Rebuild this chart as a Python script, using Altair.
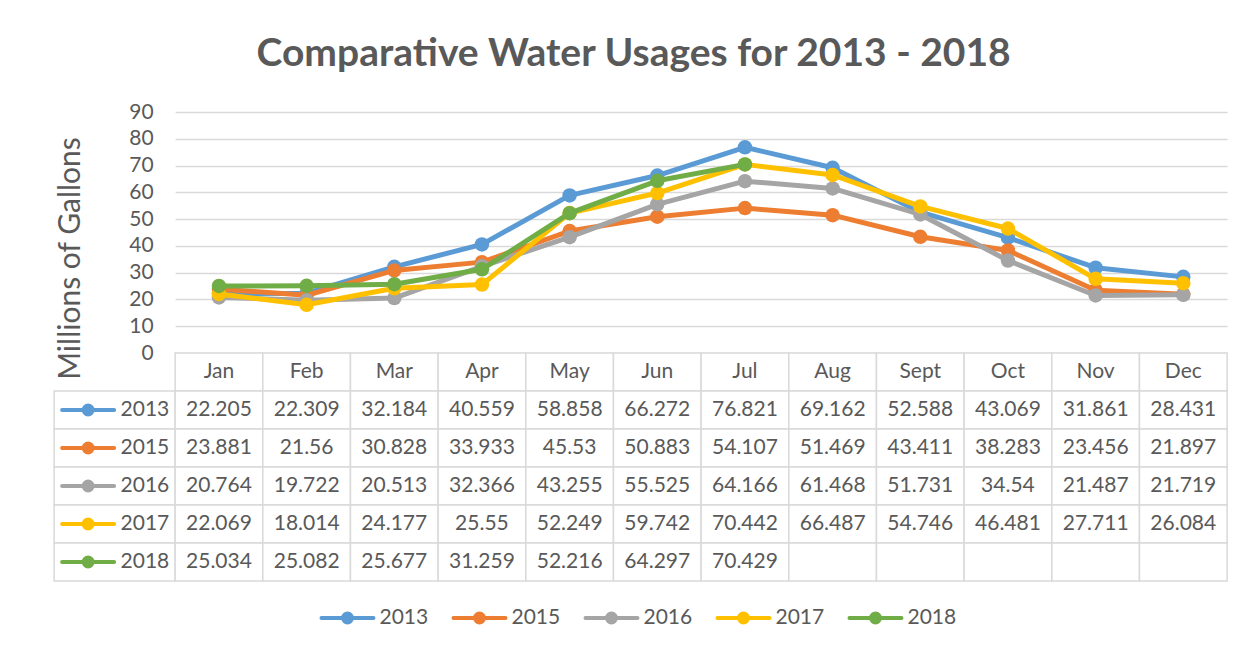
import altair as alt
import pandas as pd

# ---------------- data ----------------
months = ["Jan", "Feb", "Mar", "Apr", "May", "Jun", "Jul", "Aug", "Sept", "Oct", "Nov", "Dec"]
years = ["2013", "2015", "2016", "2017", "2018"]
colors = ["#5B9BD5", "#ED7D31", "#A5A5A5", "#FFC000", "#70AD47"]
v2013 = [22.205, 22.309, 32.184, 40.559, 58.858, 66.272, 76.821, 69.162, 52.588, 43.069, 31.861, 28.431]
v2015 = [23.881, 21.56, 30.828, 33.933, 45.53, 50.883, 54.107, 51.469, 43.411, 38.283, 23.456, 21.897]
v2016 = [20.764, 19.722, 20.513, 32.366, 43.255, 55.525, 64.166, 61.468, 51.731, 34.54, 21.487, 21.719]
v2017 = [22.069, 18.014, 24.177, 25.55, 52.249, 59.742, 70.442, 66.487, 54.746, 46.481, 27.711, 26.084]
v2018 = [25.034, 25.082, 25.677, 31.259, 52.216, 64.297, 70.429, None, None, None, None, None]
y_ticks = [0, 10, 20, 30, 40, 50, 60, 70, 80, 90]
title_text = "Comparative Water Usages for 2013 - 2018"
y_title = "Millions of Gallons"

series = [v2013, v2015, v2016, v2017, v2018]

# ---------------- style ----------------
FONT = "Lato"
TXT = "#595959"
GRID = "#d9d9d9"
PLOT_W, PLOT_H = 1052, 241
LAB_W = 121
ROW_H = 38
rows = ["hdr"] + years
FS = 21

# symbol (line + dot) paths, unit = sqrt(size)/2
SYM_SIZE = 2704
SYM_PATH = ("M-0.856,0H1.144"
            "M0.317,0A0.173,0.173 0 1 1 -0.029,0A0.173,0.173 0 1 1 0.317,0Z")
LEG_PATH = ("M-2.135,0H-0.135"
            "M-0.962,0A0.173,0.173 0 1 1 -1.308,0A0.173,0.173 0 1 1 -0.962,0Z")


def fmt(v):
    return "" if v is None else f"{v:g}"


records = []
for yr, vals in zip(years, series):
    for m, v in zip(months, vals):
        records.append({"year": yr, "month": m, "value": v, "label": fmt(v)})
df = pd.DataFrame(records)

cscale = alt.Scale(domain=years, range=colors)

# ---------------- line chart ----------------
x_pt = alt.X("month:N", scale=alt.Scale(type="point", domain=months, padding=0.5), axis=None)
y_val = alt.Y(
    "value:Q",
    scale=alt.Scale(domain=[0, 90], nice=False, zero=True),
    axis=alt.Axis(
        values=y_ticks, grid=True, gridColor=GRID, gridWidth=1.5, domain=False,
        ticks=False, tickSize=0, labelPadding=22, labelFont=FONT, labelFontSize=FS,
        labelColor=TXT, title=y_title, titleFont=FONT, titleFontSize=30,
        titleFontWeight="normal", titleColor=TXT, titleX=-96, titleY=146,
        titleAlign="center", titleBaseline="alphabetic", titleAngle=270,
    ),
)

layers = []
for yr, c in zip(years, colors):
    base = alt.Chart(df).transform_filter(f"datum.year == '{yr}' && isValid(datum.value)")
    layers.append(base.mark_line(color=c, strokeWidth=5, strokeCap="round",
                                 strokeJoin="round").encode(x=x_pt, y=y_val))
    layers.append(base.mark_circle(color=c, size=210, opacity=1).encode(x=x_pt, y=y_val))
line_chart = alt.layer(*layers).properties(width=PLOT_W, height=PLOT_H)

spacer = alt.Chart(pd.DataFrame({"t": [""]})).mark_text().encode(
    text="t:N").properties(width=LAB_W, height=PLOT_H)

# ---------------- data table ----------------
tab_records = [{"row": "hdr", "month": m, "label": m} for m in months]
tab_records += [{"row": r["year"], "month": r["month"], "label": r["label"]} for r in records]
tab = pd.DataFrame(tab_records)

x_band = alt.X("month:N", scale=alt.Scale(type="band", domain=months, paddingInner=0,
                                          paddingOuter=0), axis=None)
y_band = alt.Y("row:N", scale=alt.Scale(type="band", domain=rows, paddingInner=0,
                                        paddingOuter=0), axis=None)

table = alt.layer(
    alt.Chart(tab).mark_rect(fill="white", stroke=GRID, strokeWidth=1.5).encode(x=x_band, y=y_band),
    alt.Chart(tab).mark_text(font=FONT, fontSize=FS, color=TXT).encode(
        x=x_band, y=y_band, text="label:N"),
).properties(width=PLOT_W, height=ROW_H * len(rows))

lab = pd.DataFrame({"row": years, "year": years, "sym": "sym", "lab": "lab"})
x_lab_scale = alt.Scale(type="band", domain=["sym", "lab"], paddingInner=0, paddingOuter=0)
labcol = alt.layer(
    alt.Chart(lab).mark_rect(fill="white", stroke=GRID, strokeWidth=1.5).encode(y=y_band),
    alt.Chart(lab).mark_point(shape=SYM_PATH, size=SYM_SIZE, filled=True, strokeWidth=4,
                              strokeCap="round", opacity=1).encode(
        x=alt.X("sym:N", scale=x_lab_scale, axis=None), y=y_band,
        fill=alt.Fill("year:N", scale=cscale, legend=None),
        stroke=alt.Stroke("year:N", scale=cscale, legend=None)),
    alt.Chart(lab).mark_text(font=FONT, fontSize=FS, color=TXT).encode(
        x=alt.X("lab:N", scale=x_lab_scale, axis=None), y=y_band, text="year:N"),
).properties(width=LAB_W, height=ROW_H * len(rows))

# ---------------- legend ----------------
leg = pd.DataFrame({"year": years})
x_leg = alt.X("year:N", scale=alt.Scale(type="band", domain=years, paddingInner=0,
                                        paddingOuter=0), axis=None)
legend_chart = alt.layer(
    alt.Chart(leg).mark_point(shape=LEG_PATH, size=SYM_SIZE, filled=True, strokeWidth=4,
                              strokeCap="round", opacity=1).encode(
        x=x_leg,
        fill=alt.Fill("year:N", scale=cscale, legend=None),
        stroke=alt.Stroke("year:N", scale=cscale, legend=None)),
    alt.Chart(leg).mark_text(font=FONT, fontSize=FS, color=TXT, align="left", dx=2.5).encode(
        x=x_leg, text="year:N"),
).properties(width=660, height=30)

grid = alt.concat(spacer, line_chart, labcol, table, columns=2, spacing=0, bounds="flush")

chart = alt.vconcat(grid, legend_chart, spacing=21, center=True).properties(
    title=alt.Title(title_text, font=FONT, fontSize=39, fontWeight="bold", color=TXT,
                    anchor="middle", dx=-7, offset=27),
    padding={"left": 45, "top": 27, "right": 10, "bottom": 10},
).configure_view(stroke=None)

chart.save("out.html", embed_options={"renderer": "svg", "actions": False})
